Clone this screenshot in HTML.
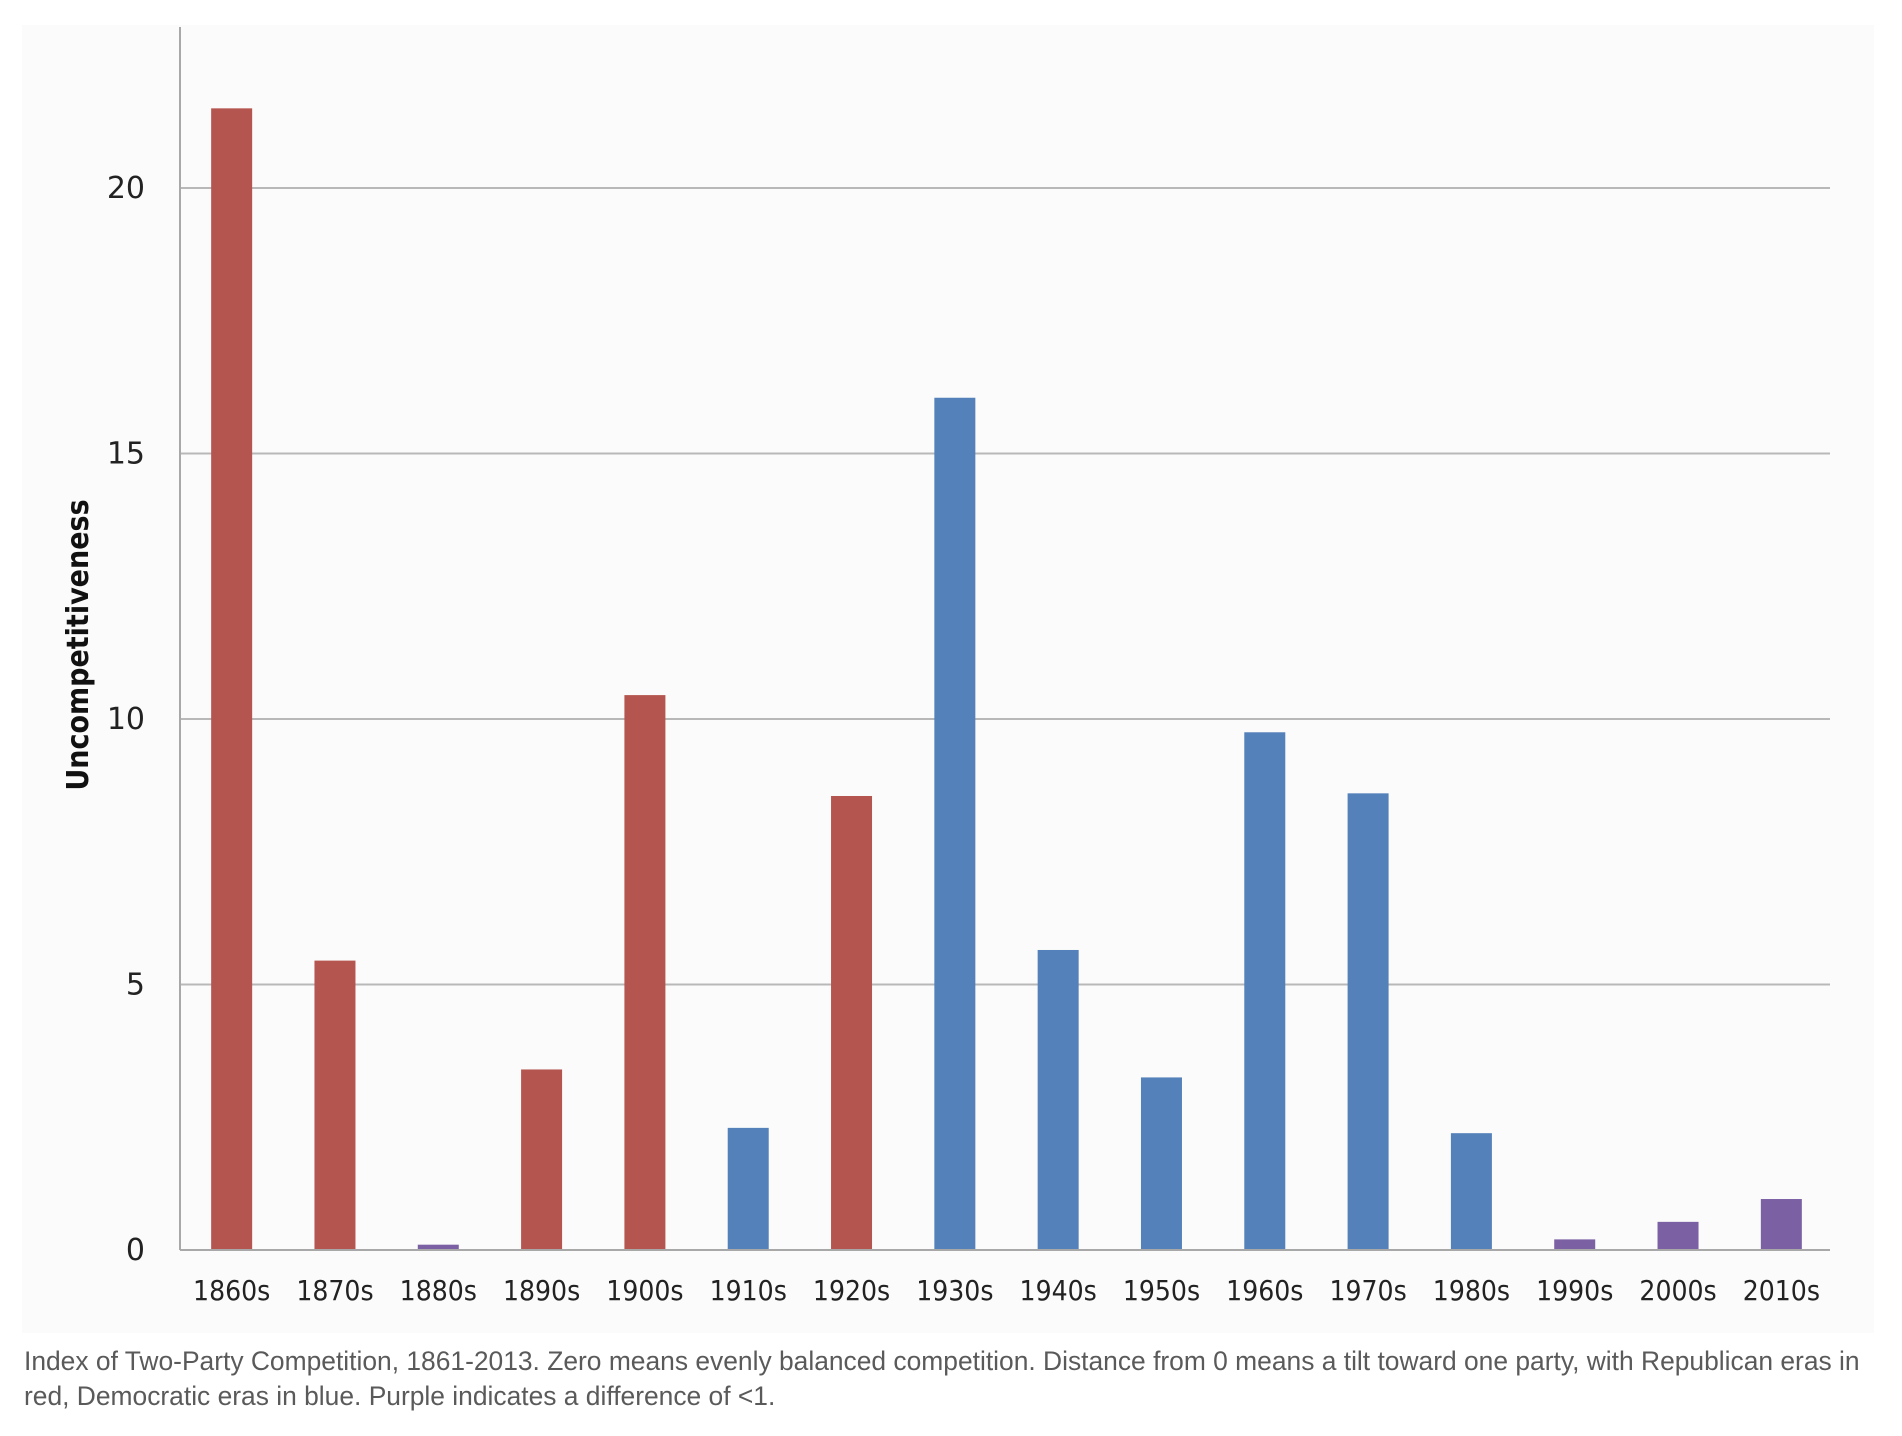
<!DOCTYPE html>
<html><head><meta charset="utf-8"><style>
body{margin:0;background:#fff;width:1902px;height:1436px;overflow:hidden;font-family:"Liberation Sans",sans-serif}
#panel{position:absolute;left:22px;top:25px;width:1852px;height:1308px;background:#fafbfa}
#cap{position:absolute;left:24px;top:1344px;width:1880px;font-size:26.4px;line-height:35px;color:#5a5a5a;white-space:nowrap}
</style></head><body>
<div id="panel"></div>
<svg id="chart" width="1902" height="1340" style="position:absolute;left:0;top:0"></svg>
<div id="cap">Index of Two-Party Competition, 1861-2013. Zero means evenly balanced competition. Distance from 0 means a tilt toward one party, with Republican eras in<br>red, Democratic eras in blue. Purple indicates a difference of &lt;1.</div>
<script>
const categories=["1860s","1870s","1880s","1890s","1900s","1910s","1920s","1930s","1940s","1950s","1960s","1970s","1980s","1990s","2000s","2010s"];
const values=[21.5,5.45,0.1,3.4,10.45,2.3,8.55,16.05,5.65,3.25,9.75,8.6,2.2,0.2,0.53,0.96];
const parties=["R","R","P","R","R","D","R","D","D","D","D","D","D","P","P","P"];
const yTicks=[0,5,10,15,20];
const colors={R:"#b5554f",D:"#5581ba",P:"#7c60a4"};
const NS="http://www.w3.org/2000/svg";
const svg=document.getElementById('chart');
const x0=180,x1=1833,yZero=1250,yTop=27,pxPerUnit=53.1;
const band=(x1-x0)/categories.length,barW=41;
function y(v){return yZero-v*pxPerUnit;}
function xc(i){return x0+band*(i+0.5);}
function mk(tag,attrs){const e=document.createElementNS(NS,tag);for(const k in attrs)e.setAttribute(k,attrs[k]);svg.appendChild(e);return e;}
yTicks.forEach(t=>{
  if(t>0){const l=mk('line',{x1:x0,x2:x1-3,y1:y(t),y2:y(t),stroke:'#b8b8b8','stroke-width':2});
  
  }
  const tx=mk('text',{x:145,y:y(t)+10,'text-anchor':'end','font-size':30,fill:'#222','font-family':'DejaVu Sans, Liberation Sans, sans-serif'});
  tx.textContent=t;
  
  
});
const ax=mk('line',{x1:x0,x2:x0,y1:yTop,y2:yZero,stroke:'#a8a8a8','stroke-width':2});


categories.forEach((c,i)=>{
  const r=mk('rect',{x:xc(i)-barW/2,y:y(values[i]),width:barW,height:values[i]*pxPerUnit,fill:colors[parties[i]]});
  
  
  const t=mk('text',{x:xc(i),y:1300,'text-anchor':'middle','font-size':28,fill:'#222','font-family':'DejaVu Sans Condensed, Liberation Sans Narrow, sans-serif'});
  t.textContent=c;
  
  
});
const xa=mk('line',{x1:x0,x2:x1-3,y1:yZero,y2:yZero,stroke:'#a8a8a8','stroke-width':2});


const yt=mk('text',{x:0,y:0,transform:'translate(88,645) rotate(-90)','text-anchor':'middle','font-size':30,'font-weight':'bold',fill:'#111','font-family':'DejaVu Sans Condensed, Liberation Sans, sans-serif'});
yt.textContent='Uncompetitiveness';


</script>
</body></html>
